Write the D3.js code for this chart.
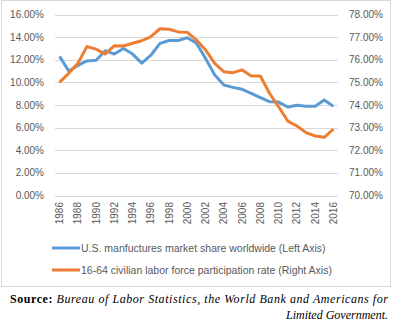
<!DOCTYPE html>
<html>
<head>
<meta charset="utf-8">
<script src="https://cdn.jsdelivr.net/npm/d3@7"></script>
<style>
  body { margin: 0; background: #fff; }
  svg { display: block; font-family: "Liberation Sans", Arial, sans-serif; }
</style>
</head>
<body>
<svg class="chart"></svg>
<script>
var width = 394,
height = 328;

// data
var years = d3.range(1986, 2017);
var marketShare = [12.3, 11.0, 11.5, 11.9, 11.95, 12.8, 12.5, 13.0, 12.5, 11.7,
                   12.4, 13.45, 13.7, 13.7, 13.95, 13.45, 12.1, 10.65, 9.77, 9.56,
                   9.39, 9.03, 8.65, 8.29, 8.26, 7.82, 7.97, 7.9, 7.9, 8.44, 7.88];
var laborRate = [75.0, 75.4, 75.84, 76.58, 76.47, 76.25, 76.62, 76.61, 76.73, 76.84,
                 77.02, 77.37, 77.35, 77.23, 77.21, 76.87, 76.43, 75.84, 75.47, 75.43,
                 75.55, 75.28, 75.28, 74.52, 73.92, 73.29, 73.07, 72.78, 72.63, 72.57, 72.94];
var leftTicks = [0, 2, 4, 6, 8, 10, 12, 14, 16];
var rightTicks = [70, 71, 72, 73, 74, 75, 76, 77, 78];
var seriesNames = ["U.S. manfuctures market share worldwide (Left Axis)",
                   "16-64 civilian labor force participation rate (Right Axis)"];
var colors = ["#5b9bd5", "#ed7d31"];

var svg = d3.select('.chart')
            .attr('width', width)
            .attr('height', height);

// chart frame
svg.append('rect')
   .attr('x', 1.5).attr('y', 0.5)
   .attr('width', 389).attr('height', 286)
   .attr('fill', 'none')
   .attr('stroke', '#d9d9d9');

var x = d3.scalePoint().domain(years).range([55, 338]).padding(0.5);
var yL = d3.scaleLinear().domain([0, 16]).range([195.5, 14.5]);
var yR = d3.scaleLinear().domain([70, 78]).range([195.5, 14.5]);

// gridlines
svg.append('g')
   .selectAll('line')
   .data(leftTicks)
   .join('line')
   .attr('x1', 55).attr('x2', 338)
   .attr('y1', d => Math.round(yL(d)) + 0.5)
   .attr('y2', d => Math.round(yL(d)) + 0.5)
   .attr('stroke', '#d9d9d9');

svg.append('g')
   .selectAll('text')
   .data(leftTicks)
   .join('text')
   .attr('x', 44)
   .attr('y', d => yL(d))
   .attr('dy', '0.35em')
   .attr('text-anchor', 'end')
   .attr('font-size', 10)
   .attr('fill', '#595959')
   .text(d => d.toFixed(2) + '%');

svg.append('g')
   .selectAll('text')
   .data(rightTicks)
   .join('text')
   .attr('x', 349)
   .attr('y', d => yR(d))
   .attr('dy', '0.35em')
   .attr('font-size', 10)
   .attr('fill', '#595959')
   .text(d => d.toFixed(2) + '%');

// year labels, every other year
svg.append('g')
   .selectAll('text')
   .data(years.filter(y => y % 2 === 0))
   .join('text')
   .attr('transform', d => `translate(${x(d)},202) rotate(-90)`)
   .attr('dy', '0.35em')
   .attr('text-anchor', 'end')
   .attr('font-size', 10)
   .attr('fill', '#595959')
   .text(d => d);

var lineL = d3.line().x((d, i) => x(years[i])).y(d => yL(d));
var lineR = d3.line().x((d, i) => x(years[i])).y(d => yR(d));

svg.append('path')
   .attr('d', lineL(marketShare))
   .attr('fill', 'none')
   .attr('stroke', colors[0])
   .attr('stroke-width', 3)
   .attr('stroke-linejoin', 'round');

svg.append('path')
   .attr('d', lineR(laborRate))
   .attr('fill', 'none')
   .attr('stroke', colors[1])
   .attr('stroke-width', 3)
   .attr('stroke-linejoin', 'round');

// legend
var legend = svg.append('g')
                .selectAll('g')
                .data(seriesNames)
                .join('g')
                .attr('transform', (d, i) => `translate(52,${248 + i * 22})`);

legend.append('line')
      .attr('x1', 0).attr('x2', 28)
      .attr('stroke', (d, i) => colors[i])
      .attr('stroke-width', 3);

legend.append('text')
      .attr('x', 29)
      .attr('dy', '0.35em')
      .attr('font-size', 10.5)
      .attr('fill', '#595959')
      .text(d => d);

// source note
var src = svg.append('text')
             .attr('x', 10)
             .attr('y', 303)
             .attr('font-family', '"Liberation Serif", serif')
             .attr('font-size', 12)
             .attr('textLength', 378)
             .attr('lengthAdjust', 'spacing');
src.append('tspan').attr('font-weight', 'bold').text('Source: ');
src.append('tspan').attr('font-style', 'italic')
   .text('Bureau of Labor Statistics, the World Bank and Americans for');

svg.append('text')
   .attr('x', 388)
   .attr('y', 319)
   .attr('text-anchor', 'end')
   .attr('font-family', '"Liberation Serif", serif')
   .attr('font-size', 12)
   .attr('font-style', 'italic')
   .text('Limited Government.');
</script>
</body>
</html>
